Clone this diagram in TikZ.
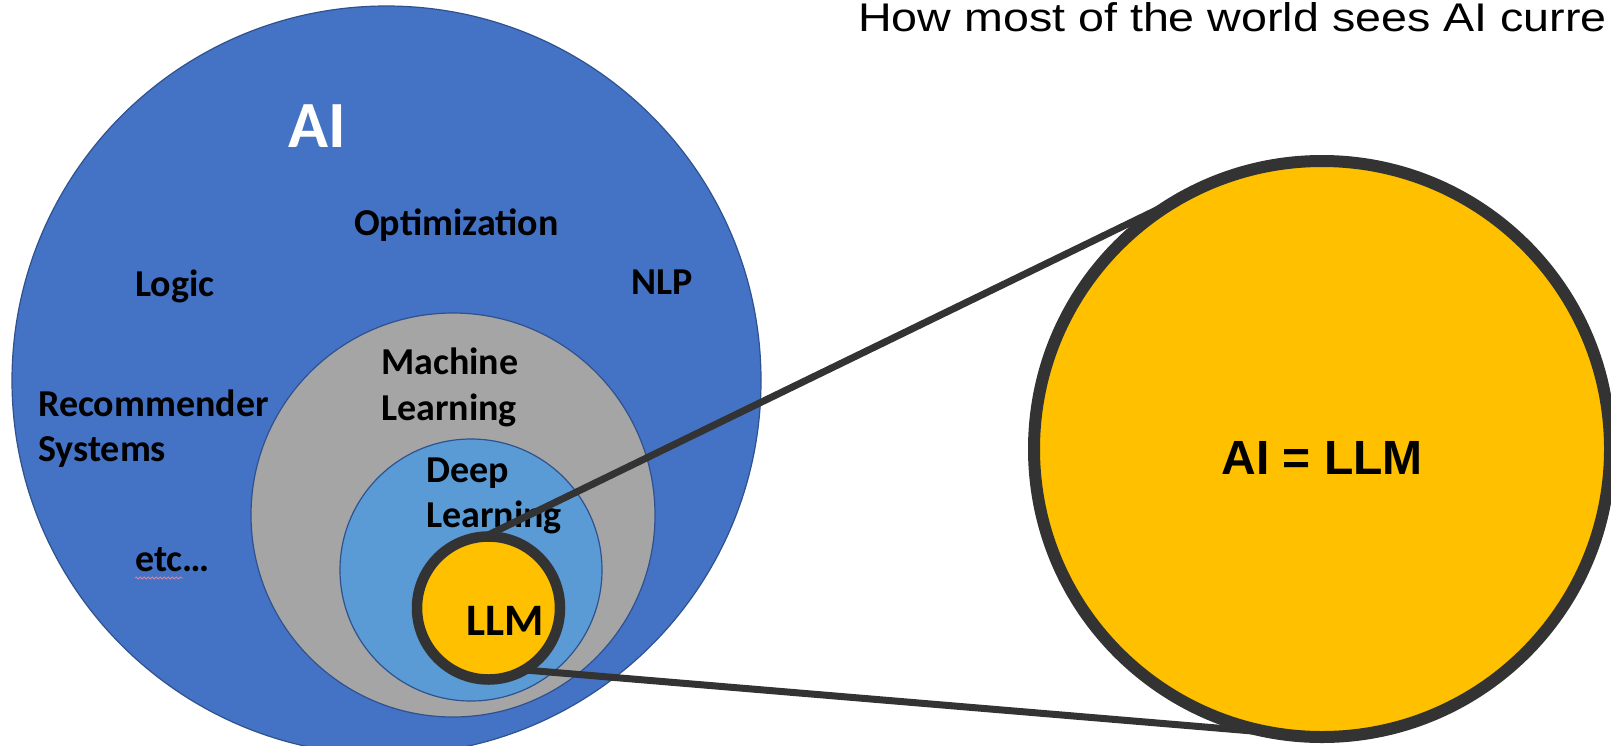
\documentclass[tikz,border=0pt]{standalone}
\usepackage{graphicx}
\usepackage{fontspec}
\setmainfont{Carlito}
\newfontfamily\arialfont{Liberation Sans}
\usetikzlibrary{decorations.pathmorphing}
\definecolor{aiblue}{HTML}{4472C4}
\definecolor{mlgray}{HTML}{A5A5A5}
\definecolor{dlblue}{HTML}{5B9BD5}
\definecolor{llmyellow}{HTML}{FFC000}
\definecolor{ringdark}{HTML}{333333}
\definecolor{rimblue}{HTML}{2F528F}
\definecolor{squigglered}{HTML}{D9849B}
\tikzset{
  zone/.style={circle, inner sep=0pt, outer sep=0pt, draw=rimblue, line width=1.2pt},
  ring/.style={circle, inner sep=0pt, outer sep=0pt, draw=ringdark, fill=llmyellow},
  lab/.style={anchor=base west, inner sep=0pt, text=black, font=\bfseries\fontsize{38}{46}\selectfont},
  link/.style={draw=ringdark, line width=7pt}
}
\begin{document}
\begin{tikzpicture}[x=1pt,y=-1pt]
\clip (0,0) rectangle (1611,745);
\fill[white] (0,0) rectangle (1611,745);
% nested circles
\node[zone, fill=aiblue, minimum size=749pt] (ai) at (386.5,380.5) {};
\node[zone, fill=mlgray, minimum size=404pt] (ml) at (453,515) {};
\node[zone, fill=dlblue, minimum size=262pt] (dl) at (471,570) {};
% labels
\node[lab, text=white, font=\bfseries\fontsize{66}{72}\selectfont] (tai) at (288,147) {AI};
\node[lab] (topt) at (354,235) {Optimization};
\node[lab] (tlogic) at (135,296) {Logic};
\node[lab] (tnlp) at (631,294) {NLP};
\node[lab] (tmach) at (381,374) {Machine};
\node[lab] (tmlearn) at (381,420) {Learning};
\node[lab] (trec) at (38,416) {Recommender};
\node[lab] (tsys) at (38,461) {Systems};
\node[lab] (tdeep) at (426,482) {Deep};
\node[lab] (tdlearn) at (426,527) {Learning};
\node[lab] (tetc) at (135,571) {etc…};
\coordinate (sqa) at (135,578);
\coordinate (sqb) at (183,578);
\draw[squigglered, line width=0.8pt, decorate, decoration={snake, amplitude=1pt, segment length=4pt}] (sqa) -- (sqb);
% LLM circle and zoom circle
\node[ring, line width=10.5pt, minimum size=143pt] (llm) at (488.5,608) {};
\node[lab, font=\bfseries\fontsize{45}{50}\selectfont] (tllm) at (466,635) {LLM};
\node[ring, line width=12pt, minimum size=576pt] (big) at (1322,449) {};
\node[anchor=base, inner sep=0pt, font=\arialfont\bfseries\fontsize{48}{54}\selectfont] (tbig) at (1322,474) {AI = LLM};
% connectors
\draw[link] (llm.93) -- (big.112);
\draw[link] (llm.-60) -- (big.-100);
% title
\node[anchor=base west, inner sep=0pt, font=\arialfont\fontsize{40}{44}\selectfont] (title) at (858,31) {\scalebox{1.165}[1]{How most of the world sees AI curre}};
\end{tikzpicture}
\end{document}
